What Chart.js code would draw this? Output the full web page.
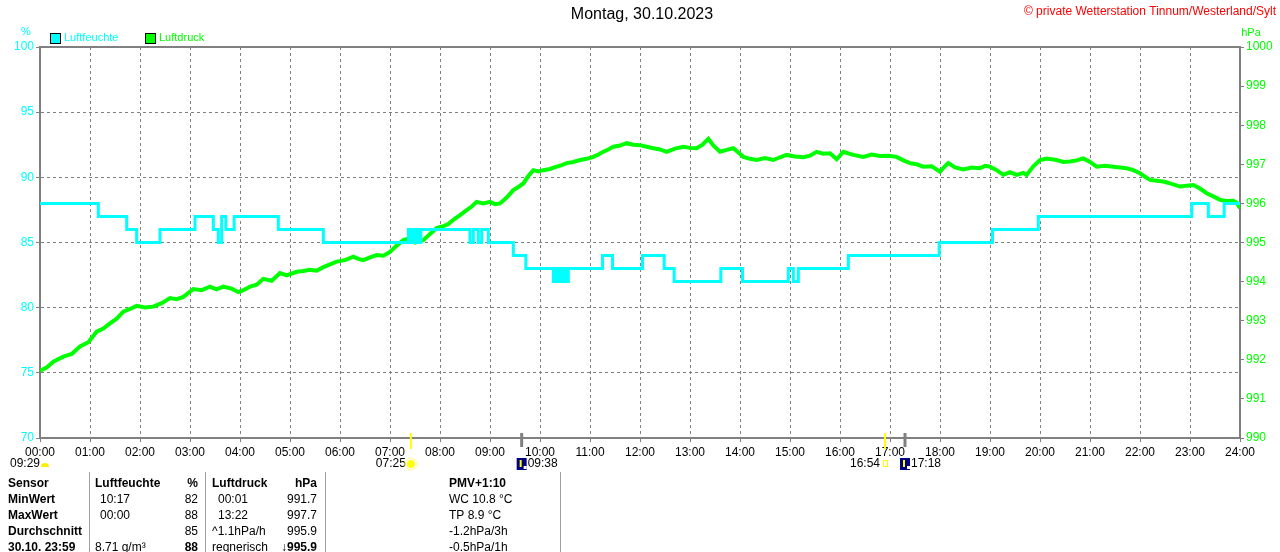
<!DOCTYPE html>
<html lang="de">
  <head>
    <meta charset="UTF-8" />
    <title>Montag, 30.10.2023</title>
    <script src="https://cdn.jsdelivr.net/npm/chart.js"></script>
    <style>
      body { margin: 0; background: #fff; }
      canvas { display: block; }
    </style>
  </head>
  <body>
    <canvas id="c" width="1280" height="552"></canvas>
    <script>
      // Luftfeuchte: Stufen (ab Zeitpunkt gilt Wert)
      const humTimes = ["00:00","01:10","01:44","01:56","02:24","03:06","03:28","03:34","03:38","03:43","03:53","04:46","05:40",
        "07:22","07:24","07:27","07:29","07:32","07:34","07:37","08:36","08:40","08:46","08:50","08:58","09:28","09:43",
        "10:16","10:19","10:21","10:24","10:26","10:29","10:31","10:34","11:15","11:27","12:03","12:29","12:41","13:37",
        "14:03","14:58","15:04","15:10","16:10","17:59","19:03","19:58","23:02","23:22","23:41","24:00"];
      const humValues = [88,87,86,85,86,87,86,85,87,86,87,86,85,
        86,85,86,85,86,85,86,85,86,85,86,85,84,83,
        82,83,82,83,82,83,82,83,84,83,84,83,82,83,
        82,83,82,83,84,85,86,87,88,87,88,88];

      // Luftdruck
      const pressTimes = ["00:00","00:08","00:16","00:28","00:38","00:48","00:58","01:08","01:16","01:24","01:32","01:40","01:48","01:56",
        "02:06","02:16","02:26","02:36","02:44","02:52","03:04","03:14","03:24","03:32","03:40","03:50","03:58","04:04","04:12",
        "04:20","04:28","04:38","04:48","04:56","05:08","05:16","05:24","05:32","05:40","05:48","05:56","06:06","06:16","06:22",
        "06:28","06:36","06:44","06:52","07:00","07:08","07:16","07:22","07:30","07:40","07:48","07:56","08:04","08:10","08:16",
        "08:24","08:32","08:38","08:44","08:52","09:00","09:06","09:12","09:20","09:28","09:34","09:40","09:46","09:52","09:58",
        "10:04","10:12","10:20","10:26","10:32","10:40","10:48","10:56","11:04","11:10","11:16","11:22","11:28","11:36","11:44",
        "11:52","12:00","12:08","12:16","12:24","12:32","12:42","12:52","13:00","13:08","13:15","13:22","13:28","13:36","13:44",
        "13:52","13:58","14:04","14:12","14:20","14:30","14:40","14:48","14:56","15:06","15:16","15:24","15:32","15:40","15:48",
        "15:56","16:04","16:16","16:28","16:38","16:48","16:58","17:08","17:16","17:24","17:32","17:40","17:50","18:00","18:06",
        "18:10","18:18","18:28","18:38","18:48","18:54","19:00","19:08","19:16","19:24","19:32","19:40","19:44","19:52","20:00",
        "20:08","20:20","20:28","20:36","20:44","20:52","21:00","21:08","21:18","21:28","21:36","21:44","21:52","22:00","22:06",
        "22:12","22:20","22:28","22:38","22:48","22:56","23:04","23:12","23:20","23:28","23:36","23:44","23:52","23:56","24:00"];
      const pressValues = [991.72,991.80,991.95,992.08,992.15,992.34,992.45,992.72,992.80,992.93,993.05,993.23,993.30,993.38,
        993.34,993.36,993.45,993.58,993.55,993.61,993.81,993.78,993.87,993.80,993.87,993.82,993.73,993.78,993.87,
        993.92,994.07,994.02,994.22,994.16,994.25,994.27,994.30,994.28,994.37,994.44,994.51,994.55,994.64,994.58,
        994.55,994.62,994.68,994.66,994.76,994.92,995.06,995.10,995.00,995.06,995.22,995.37,995.42,995.47,995.58,
        995.70,995.83,995.92,996.04,996.00,996.04,995.98,996.00,996.15,996.34,996.42,996.51,996.70,996.85,996.82,
        996.85,996.88,996.94,996.98,997.03,997.06,997.11,997.14,997.19,997.25,997.32,997.38,997.45,997.48,997.54,
        997.50,997.49,997.45,997.41,997.38,997.32,997.40,997.45,997.42,997.41,997.50,997.65,997.48,997.32,997.37,
        997.41,997.30,997.19,997.14,997.11,997.16,997.11,997.18,997.24,997.20,997.18,997.22,997.32,997.27,997.28,
        997.13,997.32,997.24,997.19,997.25,997.21,997.22,997.19,997.10,997.03,997.00,996.94,996.95,996.81,996.95,
        997.03,996.92,996.87,996.92,996.90,996.96,996.94,996.85,996.73,996.80,996.73,996.78,996.73,996.95,997.11,
        997.15,997.11,997.06,997.07,997.10,997.15,997.06,996.94,996.96,996.94,996.92,996.90,996.85,996.77,996.68,
        996.60,996.58,996.56,996.50,996.43,996.45,996.47,996.38,996.26,996.18,996.09,996.06,996.07,996.02,995.88];

      // Sonne / Mond
      const sunTimes = ["07:25", "16:54"];
      const moonTimes = ["09:38", "17:18"];

      // Tabelle
      const tableRows = [
        ["Sensor", "Luftfeuchte", "", "%", "Luftdruck", "", "hPa", "PMV+1:10"],
        ["MinWert", "", "10:17", "82", "", "00:01", "991.7", "WC 10.8 °C"],
        ["MaxWert", "", "00:00", "88", "", "13:22", "997.7", "TP 8.9 °C"],
        ["Durchschnitt", "", "", "85", "^1.1hPa/h", "", "995.9", "-1.2hPa/3h"],
        ["30.10. 23:59", "8.71 g/m³", "", "88", "regnerisch", "", "↓995.9", "-0.5hPa/1h"]
      ];

      const toH = (s) => { const [h, m] = s.split(":").map(Number); return h + m / 60; };
      const humPts = humTimes.map((t, i) => ({ x: toH(t), y: humValues[i] }));
      const pressPts = pressTimes.map((t, i) => ({ x: toH(t), y: pressValues[i] }));

      const FONT = '"Liberation Sans", Arial, sans-serif';
      const CYAN = "#00ffff";
      const GREEN = "#00ff00";
      const GRAY = "#808080";
      Chart.defaults.font.family = FONT;

      const deco = {
        id: "deco",
        beforeDatasetsDraw(c) {
          const a = c.chartArea, ctx = c.ctx;
          ctx.save();
          ctx.strokeStyle = GRAY;
          ctx.lineWidth = 2;
          ctx.strokeRect(a.left, a.top, a.right - a.left, a.bottom - a.top);
          ctx.restore();
        },
        afterDraw(c) {
          const ctx = c.ctx, xs = c.scales.x, a = c.chartArea;
          ctx.save();
          ctx.textBaseline = "middle";

          ctx.fillStyle = "#000";
          ctx.font = "16px " + FONT;
          ctx.textAlign = "center";
          ctx.fillText("Montag, 30.10.2023", 642, 15);

          ctx.fillStyle = "#ff0000";
          ctx.font = "12px " + FONT;
          ctx.textAlign = "right";
          ctx.fillText("© private Wetterstation Tinnum/Westerland/Sylt", 1276, 12);

          // legend
          ctx.font = "11px " + FONT;
          ctx.textAlign = "left";
          [[50, CYAN, "Luftfeuchte"], [145, GREEN, "Luftdruck"]].forEach(([x, col, txt]) => {
            ctx.fillStyle = col;
            ctx.fillRect(x, 33, 10, 10);
            ctx.strokeStyle = "#000";
            ctx.lineWidth = 1;
            ctx.strokeRect(x + 0.5, 33.5, 10, 10);
            ctx.fillText(txt, x + 14, 38);
          });
          ctx.fillStyle = CYAN;
          ctx.textAlign = "center";
          ctx.fillText("%", 26, 32);
          ctx.fillStyle = GREEN;
          ctx.fillText("hPa", 1251, 33);

          // Sonne / Mond Marker
          const sx = sunTimes.map((t) => xs.getPixelForValue(toH(t)));
          const mx = moonTimes.map((t) => xs.getPixelForValue(toH(t)));
          ctx.strokeStyle = "#ffff00";
          ctx.lineWidth = 2;
          sx.forEach((x) => { ctx.beginPath(); ctx.moveTo(x, a.bottom - 5); ctx.lineTo(x, a.bottom + 11); ctx.stroke(); });
          ctx.strokeStyle = GRAY;
          ctx.lineWidth = 3;
          mx.forEach((x) => { ctx.beginPath(); ctx.moveTo(x, a.bottom - 5); ctx.lineTo(x, a.bottom + 9); ctx.stroke(); });

          ctx.fillStyle = "#000";
          ctx.font = "12px " + FONT;
          const ly = 464;
          ctx.textAlign = "left";
          ctx.fillText("09:29", 10, ly);
          ctx.fillStyle = "#ffee00";
          ctx.beginPath(); ctx.arc(45, ly + 3, 4, Math.PI, 0); ctx.fill();

          ctx.fillStyle = "#000";
          ctx.textAlign = "right";
          ctx.fillText(sunTimes[0], sx[0] - 5, ly);
          ctx.fillText(sunTimes[1], sx[1] - 5, ly);
          ctx.fillStyle = "#ffff00";
          ctx.beginPath(); ctx.arc(sx[0], ly, 4, 0, Math.PI * 2); ctx.fill();
          ctx.strokeStyle = "#ffff80"; ctx.lineWidth = 1;
          ctx.beginPath(); ctx.arc(sx[0], ly, 6, 0, Math.PI * 2); ctx.stroke();
          ctx.strokeStyle = "#ffff00";
          ctx.strokeRect(sx[1] - 1.5, ly - 3.5, 4, 6);

          ctx.textAlign = "left";
          mx.forEach((x, i) => {
            ctx.fillStyle = "#000080";
            ctx.fillRect(x - 5, ly - 6, 10, 12);
            ctx.fillStyle = "#ffff00";
            ctx.fillRect(x - 2, ly - 4, 2, 7);
            ctx.fillStyle = "#ffffff";
            ctx.fillRect(x + 2, ly + 2, 3, 3);
            ctx.fillStyle = "#000";
            ctx.fillText(moonTimes[i], x + 6, ly);
          });

          // Tabelle
          ctx.strokeStyle = "#a0a0a0";
          ctx.lineWidth = 1;
          [89, 205, 325, 560].forEach((x) => {
            ctx.beginPath(); ctx.moveTo(x + 0.5, 472); ctx.lineTo(x + 0.5, 552); ctx.stroke();
          });
          const cols = [
            { x: 8, al: "left" }, { x: 95, al: "left" }, { x: 100, al: "left" }, { x: 198, al: "right" },
            { x: 212, al: "left" }, { x: 218, al: "left" }, { x: 317, al: "right" }, { x: 449, al: "left" }
          ];
          tableRows.forEach((row, r) => {
            const y = 484 + r * 16;
            row.forEach((txt, k) => {
              if (!txt) return;
              let bold = k === 0 || r === 0 || (r === 4 && (k === 3 || k === 6));
              ctx.font = (bold ? "bold " : "") + "12px " + FONT;
              ctx.fillStyle = "#000";
              ctx.textAlign = cols[k].al;
              ctx.fillText(txt, cols[k].x, y);
            });
          });
          ctx.restore();
        }
      };

      const ctx = document.getElementById("c");
      new Chart(ctx, {
        type: "line",
        data: {
          datasets: [
            { label: "Luftfeuchte", data: humPts, yAxisID: "y", borderColor: CYAN, borderWidth: 3,
              stepped: true, pointRadius: 0, fill: false },
            { label: "Luftdruck", data: pressPts, yAxisID: "y1", borderColor: GREEN, borderWidth: 4,
              pointRadius: 0, fill: false, tension: 0 }
          ]
        },
        options: {
          responsive: false,
          animation: false,
          devicePixelRatio: 1,
          layout: { padding: { top: 47, left: 0, right: 0, bottom: 0 } },
          plugins: { legend: { display: false }, tooltip: { enabled: false } },
          scales: {
            x: {
              type: "linear", min: 0, max: 24,
              ticks: { stepSize: 1, autoSkip: false, maxRotation: 0, color: "#000", font: { size: 12 }, padding: 3,
                callback: (v) => String(v).padStart(2, "0") + ":00" },
              grid: { color: GRAY, tickColor: GRAY, tickLength: 4 },
              border: { color: GRAY, width: 2, dash: [3, 3] },
              afterFit(s) { s.height = 114; }
            },
            y: {
              position: "left", min: 70, max: 100,
              ticks: { stepSize: 5, color: CYAN, font: { size: 12 }, padding: 2, callback: (v) => String(v) },
              grid: { color: GRAY, tickColor: GRAY, tickLength: 4 },
              border: { color: GRAY, width: 2, dash: [3, 3] },
              afterFit(s) { s.width = 40; }
            },
            y1: {
              position: "right", min: 990, max: 1000,
              ticks: { stepSize: 1, color: GREEN, font: { size: 12 }, padding: 2, callback: (v) => String(v) },
              grid: { drawOnChartArea: false, tickColor: GRAY, tickLength: 4 },
              border: { color: GRAY, width: 2 },
              afterFit(s) { s.width = 40; }
            }
          }
        },
        plugins: [deco]
      });
    </script>
  </body>
</html>
